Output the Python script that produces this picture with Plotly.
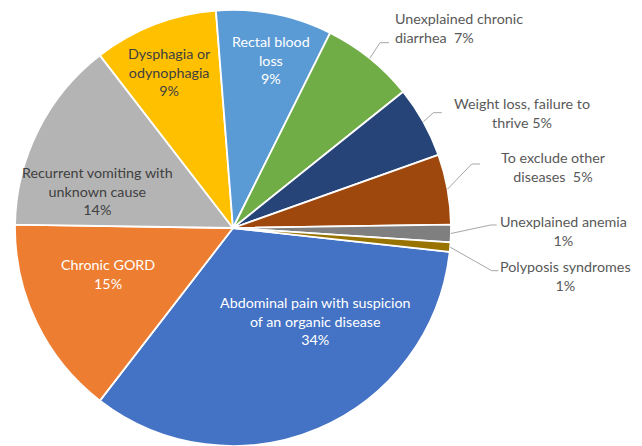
import math
import plotly.graph_objects as go

# ---- data ----
categories = [
    "Abdominal pain with suspicion of an organic disease",
    "Chronic GORD",
    "Recurrent vomiting with unknown cause",
    "Dysphagia or odynophagia",
    "Rectal blood loss",
    "Unexplained chronic diarrhea",
    "Weight loss, failure to thrive",
    "To exclude other diseases",
    "Unexplained anemia",
    "Polyposis syndromes",
]
values = [33.7, 14.8, 14.3, 9.2, 8.6, 6.9, 5.3, 5.2, 1.3, 0.7]
label_lines = [
    ["Abdominal pain with suspicion", "of an organic disease"],
    ["Chronic GORD"],
    ["Recurrent vomiting with", "unknown cause"],
    ["Dysphagia or", "odynophagia"],
    ["Rectal blood", "loss"],
    ["Unexplained chronic", "diarrhea\u00a0\u00a0{p}"],
    ["Weight loss, failure to", "thrive {p}"],
    ["To exclude other", "diseases\u00a0\u00a0{p}"],
    ["Unexplained anemia"],
    ["Polyposis syndromes"],
]

# ---- style / layout ----
colors = ["#4472C4", "#ED7D31", "#B4B4B4", "#FFC000", "#5B9BD5",
          "#70AD47", "#264478", "#9E480E", "#7F7F7F", "#997300"]
W, H = 642, 446
dom_x = [0.02337, 0.70249]
dom_y = [0.0, 0.97758]
rotation = 96.3
font_family = "Lato, 'Open Sans', sans-serif"
fsize = 14.3

# label anchor positions in pixels (center), text colour, alignment
label_pos = [
    (315.3, 320.5, "white", "center"),
    (107.5, 273.7, "white", "center"),
    (97.2, 190.6, "#404040", "center"),
    (169.3, 71.9, "#404040", "center"),
    (270.8, 60.0, "white", "center"),
    (392.7, 27.8, "#595959", "left"),
    (521.7, 112.8, "#595959", "center"),
    (553.5, 167.0, "#595959", "center"),
    (563.3, 231.2, "#595959", "center"),
    (565.0, 276.2, "#595959", "center"),
]
# leader line elbow + end points (pixels) for outside labels
leaders = {
    5: [(380.0, 42.7), (389.0, 42.7)],
    6: [(433.3, 112.7), (441.7, 112.7)],
    7: [(471.7, 164.0), (480.0, 164.0)],
    8: [(490.7, 225.0), (496.7, 225.0)],
    9: [(491.7, 270.7), (498.3, 270.7)],
}

fig = go.Figure(go.Pie(
    labels=categories,
    values=values,
    sort=False,
    direction="clockwise",
    rotation=rotation,
    textinfo="none",
    hoverinfo="label+percent",
    marker=dict(colors=colors, line=dict(color="white", width=1.8)),
    domain=dict(x=dom_x, y=dom_y),
    showlegend=False,
))

total = sum(values)
cx = W * (dom_x[0] + dom_x[1]) / 2
cy = H * (1 - (dom_y[0] + dom_y[1]) / 2)
r = min(W * (dom_x[1] - dom_x[0]), H * (dom_y[1] - dom_y[0])) / 2


def to_paper(px, py):
    return px / W, 1 - py / H


annotations = []
shapes = []
cum = 0.0
for i, v in enumerate(values):
    pct = f"{round(v / total * 100)}%"
    lines = [ln.format(p=pct) for ln in label_lines[i]]
    if not any(pct in ln for ln in lines):
        lines.append(pct)
    text = "<br>".join(lines)
    px, py, col, align = label_pos[i]
    ax, ay = to_paper(px, py)
    annotations.append(dict(
        x=ax, y=ay, xref="paper", yref="paper", text=text, showarrow=False,
        xanchor="left" if align == "left" else "center", yanchor="middle",
        align=align, font=dict(family=font_family, size=fsize, color=col),
    ))
    mid = math.radians(rotation + (cum + v / 2) / total * 360)
    cum += v
    if i in leaders:
        sx = cx + r * math.sin(mid)
        sy = cy - r * math.cos(mid)
        pts = [(sx, sy)] + leaders[i]
        path = "M " + " L ".join(
            f"{to_paper(a, b)[0]:.5f},{to_paper(a, b)[1]:.5f}" for a, b in pts)
        shapes.append(dict(type="path", xref="paper", yref="paper", path=path,
                           line=dict(color="#A6A6A6", width=1)))

fig.update_layout(
    width=W, height=H,
    margin=dict(l=0, r=0, t=0, b=0),
    paper_bgcolor="white",
    plot_bgcolor="white",
    annotations=annotations,
    shapes=shapes,
)

fig.write_html("out.html",
               config={"displayModeBar": False},
               post_script="document.body.style.margin='0';"
                           "document.body.style.overflow='hidden';")
